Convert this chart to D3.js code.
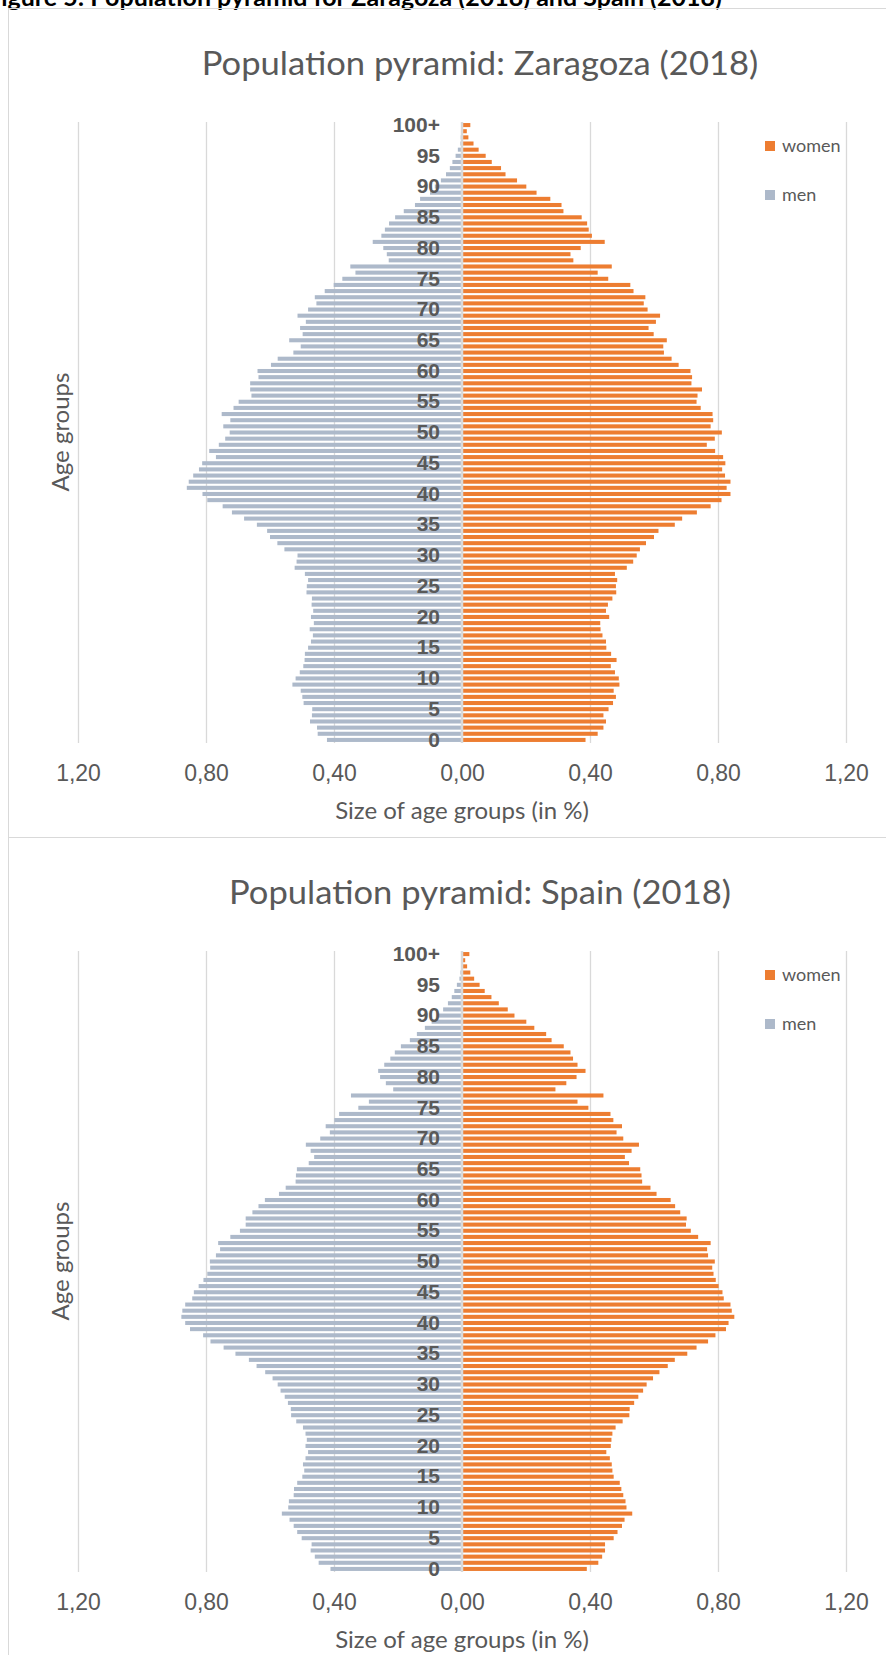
<!DOCTYPE html>
<html>
<head>
  <meta charset="utf-8">
  <title>Population pyramids: Zaragoza and Spain (2018)</title>
  <style>
    body { margin: 0; padding: 0; background: white; font-family: Lato, "Open Sans", sans-serif; }
    .frame { fill: none; stroke: #d9d9d9; stroke-width: 1; }
    .grid line { stroke: #d9d9d9; stroke-width: 1.3; }
    .grid path { display: none; }
    .title { fill: #595959; font-size: 32px; }
    .cat text { fill: #595959; font-size: 21px; font-weight: bold; }
    .cat path, .xaxis path { display: none; }
    .xaxis text { fill: #595959; font-size: 23px; }
    .axis-title { fill: #595959; font-size: 24px; }
    .legend text { fill: #595959; font-size: 18px; }
    .zero { stroke: #d9d9d9; stroke-width: 2.5; }
  </style>
</head>
<body>
<div id="chart"></div>
<script src="https://d3js.org/d3.v7.min.js"></script>
<script>

// ####### AGE GROUPS (0 .. 99, 100+) #######
var ages = d3.range(0, 100).map(String).concat(["100+"])
var ageTicks = d3.range(0, 100, 5).map(String).concat(["100+"])
var xTicks = [-1.2, -0.8, -0.4, 0, 0.4, 0.8, 1.2]

// ####### ZARAGOZA (share of population in %, age 0 first) #######
var zaragozaMen = [0.422, 0.451, 0.453, 0.475, 0.469, 0.468, 0.495, 0.499, 0.504, 0.530,
  0.520, 0.507, 0.496, 0.492, 0.491, 0.481, 0.472, 0.466, 0.476, 0.463,
  0.472, 0.465, 0.470, 0.469, 0.486, 0.485, 0.481, 0.491, 0.523, 0.517,
  0.514, 0.555, 0.577, 0.600, 0.609, 0.641, 0.681, 0.719, 0.748, 0.796,
  0.811, 0.860, 0.854, 0.840, 0.822, 0.812, 0.769, 0.790, 0.760, 0.740,
  0.726, 0.746, 0.724, 0.751, 0.714, 0.698, 0.658, 0.662, 0.662, 0.636,
  0.639, 0.597, 0.576, 0.527, 0.504, 0.540, 0.498, 0.506, 0.488, 0.514,
  0.481, 0.455, 0.460, 0.429, 0.401, 0.374, 0.333, 0.349, 0.229, 0.235,
  0.246, 0.279, 0.252, 0.241, 0.228, 0.209, 0.182, 0.147, 0.131, 0.100,
  0.085, 0.066, 0.050, 0.038, 0.030, 0.020, 0.013, 0.005, 0.004, 0.002,
  0.003]
var zaragozaWomen = [0.386, 0.424, 0.442, 0.450, 0.442, 0.458, 0.472, 0.481, 0.474, 0.492,
  0.490, 0.478, 0.465, 0.483, 0.466, 0.451, 0.450, 0.439, 0.433, 0.432,
  0.460, 0.450, 0.456, 0.470, 0.482, 0.481, 0.485, 0.478, 0.515, 0.535,
  0.546, 0.556, 0.575, 0.600, 0.614, 0.665, 0.688, 0.734, 0.777, 0.811,
  0.839, 0.827, 0.839, 0.822, 0.813, 0.823, 0.816, 0.791, 0.765, 0.790,
  0.812, 0.777, 0.785, 0.783, 0.746, 0.733, 0.736, 0.750, 0.717, 0.719,
  0.714, 0.677, 0.655, 0.631, 0.629, 0.640, 0.599, 0.583, 0.606, 0.619,
  0.580, 0.568, 0.573, 0.536, 0.526, 0.457, 0.424, 0.468, 0.348, 0.339,
  0.371, 0.446, 0.406, 0.396, 0.391, 0.374, 0.317, 0.311, 0.276, 0.233,
  0.201, 0.172, 0.136, 0.122, 0.093, 0.074, 0.052, 0.036, 0.020, 0.015,
  0.026]

// ####### SPAIN (share of population in %, age 0 first) #######
var spainMen = [0.411, 0.448, 0.460, 0.473, 0.470, 0.501, 0.515, 0.526, 0.539, 0.563,
  0.543, 0.541, 0.526, 0.525, 0.515, 0.499, 0.493, 0.497, 0.489, 0.481,
  0.489, 0.485, 0.489, 0.497, 0.518, 0.534, 0.535, 0.544, 0.554, 0.567,
  0.576, 0.592, 0.615, 0.642, 0.666, 0.708, 0.745, 0.786, 0.809, 0.850,
  0.865, 0.877, 0.874, 0.865, 0.843, 0.838, 0.823, 0.808, 0.796, 0.787,
  0.788, 0.769, 0.756, 0.762, 0.724, 0.694, 0.676, 0.676, 0.655, 0.636,
  0.616, 0.572, 0.551, 0.520, 0.519, 0.516, 0.479, 0.462, 0.473, 0.488,
  0.443, 0.413, 0.426, 0.399, 0.384, 0.324, 0.291, 0.347, 0.215, 0.238,
  0.256, 0.262, 0.243, 0.224, 0.210, 0.191, 0.163, 0.141, 0.116, 0.095,
  0.075, 0.059, 0.044, 0.032, 0.024, 0.016, 0.008, 0.005, 0.003, 0.002,
  0.002]
var spainWomen = [0.390, 0.426, 0.438, 0.447, 0.447, 0.474, 0.486, 0.500, 0.508, 0.532,
  0.514, 0.511, 0.504, 0.498, 0.493, 0.474, 0.470, 0.468, 0.462, 0.451,
  0.465, 0.467, 0.470, 0.480, 0.502, 0.523, 0.524, 0.538, 0.551, 0.566,
  0.577, 0.597, 0.617, 0.643, 0.665, 0.704, 0.733, 0.769, 0.792, 0.825,
  0.833, 0.851, 0.843, 0.839, 0.818, 0.814, 0.802, 0.793, 0.786, 0.782,
  0.790, 0.769, 0.766, 0.777, 0.738, 0.715, 0.700, 0.702, 0.682, 0.666,
  0.652, 0.608, 0.589, 0.563, 0.561, 0.557, 0.522, 0.509, 0.530, 0.553,
  0.504, 0.483, 0.500, 0.473, 0.464, 0.395, 0.361, 0.442, 0.292, 0.326,
  0.358, 0.386, 0.361, 0.347, 0.339, 0.318, 0.280, 0.263, 0.226, 0.201,
  0.164, 0.143, 0.115, 0.092, 0.071, 0.055, 0.038, 0.026, 0.016, 0.010,
  0.023]

var width = 886,
    height = 1655

var svg = d3.select("#chart").append("svg")
    .attr("width", width)
    .attr("height", height)
    .style("display", "block")

// ####### CAPTION (only its lower part shows at the top edge) #######
svg.append("text")
    .attr("x", -13)
    .attr("y", 6)
    .style("font-size", "25px")
    .style("font-weight", "bold")
    .style("fill", "#000")
    .text("Figure 5: Population pyramid for Zaragoza (2018) and Spain (2018)")

drawPyramid(0, "Population pyramid: Zaragoza (2018)", zaragozaMen, zaragozaWomen, 837)
drawPyramid(829, "Population pyramid: Spain (2018)", spainMen, spainWomen, 900)

function drawPyramid(offset, title, men, women, frameH) {

    var g = svg.append("g").attr("transform", "translate(0," + offset + ")")

    g.append("rect").attr("class", "frame")
        .attr("x", 8.5).attr("y", 8.5)
        .attr("width", 960).attr("height", frameH - 8)

    var top = 122, bottom = 743

    var x = d3.scaleLinear().domain([-1.2, 1.2]).range([78, 846])
    var y = d3.scaleBand().domain(ages.slice().reverse()).range([top, bottom]).paddingInner(0.34).paddingOuter(0.17)

    // ####### GRIDLINES #######
    g.append("g").attr("class", "grid")
        .attr("transform", "translate(0," + bottom + ")")
        .call(d3.axisBottom(x).tickValues(xTicks.filter(function (d) { return d !== 0 }))
            .tickSize(-(bottom - top)).tickFormat(""))

    // ####### BARS #######
    var rows = ages.map(function (a, i) { return { age: a, men: men[i], women: women[i] } })

    g.append("g").selectAll("rect")
        .data(rows).enter().append("rect")
        .attr("x", function (d) { return x(-d.men) })
        .attr("y", function (d) { return y(d.age) })
        .attr("width", function (d) { return x(0) - x(-d.men) })
        .attr("height", y.bandwidth())
        .style("fill", "#adb9ca")

    g.append("g").selectAll("rect")
        .data(rows).enter().append("rect")
        .attr("x", x(0))
        .attr("y", function (d) { return y(d.age) })
        .attr("width", function (d) { return x(d.women) - x(0) })
        .attr("height", y.bandwidth())
        .style("fill", "#ed7d31")

    // ####### VERTICAL AXIS LINE AT ZERO #######
    g.append("line").attr("class", "zero")
        .attr("x1", x(0)).attr("x2", x(0))
        .attr("y1", top).attr("y2", bottom)

    // ####### AGE LABELS #######
    g.append("g").attr("class", "cat")
        .attr("transform", "translate(" + x(0) + ",0)")
        .call(d3.axisLeft(y).tickValues(ageTicks).tickSize(0).tickPadding(22))

    // ####### X AXIS LABELS #######
    g.append("g").attr("class", "xaxis")
        .attr("transform", "translate(0," + bottom + ")")
        .call(d3.axisBottom(x).tickValues(xTicks).tickSize(0).tickPadding(22)
            .tickFormat(function (d) { return d3.format(".2f")(Math.abs(d)).replace(".", ",") }))

    // ####### TITLES #######
    var t = g.append("text").attr("class", "title")
        .attr("x", 480).attr("y", 75)
        .attr("text-anchor", "middle")
        .text(title)
    // stretch a little, the original face is wider than Lato
    t.attr("textLength", t.node().getComputedTextLength() * 1.08)
        .attr("lengthAdjust", "spacingAndGlyphs")

    g.append("text").attr("class", "axis-title")
        .attr("x", x(0)).attr("y", 819)
        .attr("text-anchor", "middle")
        .text("Size of age groups (in %)")

    g.append("text").attr("class", "axis-title")
        .attr("transform", "translate(69,432) rotate(-90)")
        .attr("text-anchor", "middle")
        .text("Age groups")

    // ####### LEGEND #######
    var legend = g.append("g").attr("class", "legend")
        .selectAll("g")
        .data([{ name: "women", color: "#ed7d31" }, { name: "men", color: "#adb9ca" }])
        .enter().append("g")
        .attr("transform", function (d, i) { return "translate(765," + (146 + i * 49) + ")" })

    legend.append("rect")
        .attr("x", 0).attr("y", -5)
        .attr("width", 10).attr("height", 10)
        .style("fill", function (d) { return d.color })

    legend.append("text")
        .attr("x", 17).attr("y", 6)
        .text(function (d) { return d.name })
}

</script>
</body>
</html>
